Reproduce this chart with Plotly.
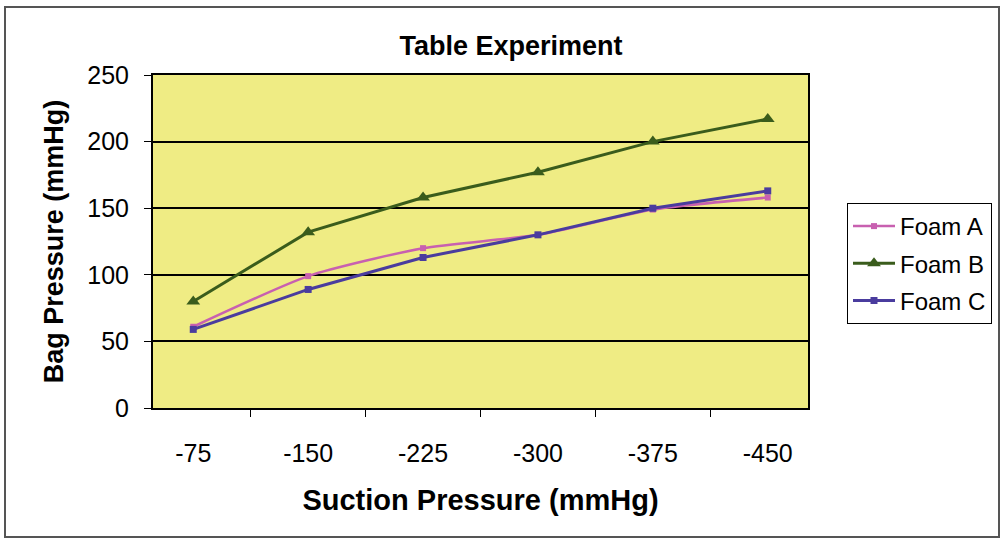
import plotly.graph_objects as go

categories = ["-75", "-150", "-225", "-300", "-375", "-450"]
foam_a = [61, 99, 120, 130, 149, 158]
foam_b = [80, 132, 158, 177, 200, 217]
foam_c = [59, 89, 113, 130, 150, 163]

FONT = "Liberation Sans, Arial, sans-serif"

fig = go.Figure()
fig.add_trace(go.Scatter(x=categories, y=foam_a, name="Foam A", mode="lines+markers",
                         legendgroup="a",
                         line=dict(color="#C860B0", width=2.5, shape="spline", smoothing=0.6),
                         marker=dict(symbol="square", size=6, color="#C860B0")))
fig.add_trace(go.Scatter(x=categories, y=foam_b, name="Foam B", mode="lines+markers",
                         legendgroup="b",
                         line=dict(color="#3A5C1C", width=3),
                         marker=dict(symbol="triangle-up", size=12, color="#3A5C1C")))
fig.add_trace(go.Scatter(x=categories, y=foam_c, name="Foam C", mode="lines+markers",
                         legendgroup="c",
                         line=dict(color="#4A3C9E", width=3),
                         marker=dict(symbol="square", size=7, color="#4A3C9E")))

L, R, T, B = 153, 808, 75, 408
W, H = 1000, 541
pw, ph = R - L, B - T

def px(x):
    return (x - L) / pw

def py(y):
    return (B - y) / ph

fig.update_layout(
    width=W, height=H,
    margin=dict(l=L, r=W - R, t=T, b=H - B, autoexpand=False),
    paper_bgcolor="white",
    plot_bgcolor="#EFEC84",
    font=dict(family=FONT, size=25, color="black"),
    title=dict(text="<b>Table Experiment</b>", x=511 / W, xanchor="center",
               y=1 - 46 / H, yanchor="middle", font=dict(size=27)),
    showlegend=True,
    legend=dict(x=px(847), y=py(203), xanchor="left", yanchor="top",
                bgcolor="white", bordercolor="black", borderwidth=1,
                font=dict(size=24), traceorder="grouped", tracegroupgap=3,
                itemwidth=42),
    shapes=[dict(type="rect", xref="paper", yref="paper",
                 x0=px(5), x1=px(999), y0=py(537), y1=py(7),
                 line=dict(color="#555555", width=2), layer="below")],
)
fig.update_xaxes(
    type="category", tickson="boundaries", ticks="outside", ticklen=7,
    tickcolor="black", showline=True, linecolor="black", linewidth=2, mirror=True,
    showgrid=False, ticklabelstandoff=22, tickfont=dict(size=25),
    title=dict(text="<b>Suction Pressure (mmHg)</b>", font=dict(size=29), standoff=24),
)
fig.update_yaxes(
    range=[0, 250], tickvals=[0, 50, 100, 150, 200, 250], ticks="outside", ticklen=7,
    tickcolor="black", showline=True, linecolor="black", linewidth=2, mirror=True,
    showgrid=True, gridcolor="black", gridwidth=1.5, zeroline=False,
    ticklabelstandoff=10, tickfont=dict(size=25),
    title=dict(text="<b>Bag Pressure (mmHg)</b>", font=dict(size=27), standoff=16),
)

fig.write_html("out.html")
